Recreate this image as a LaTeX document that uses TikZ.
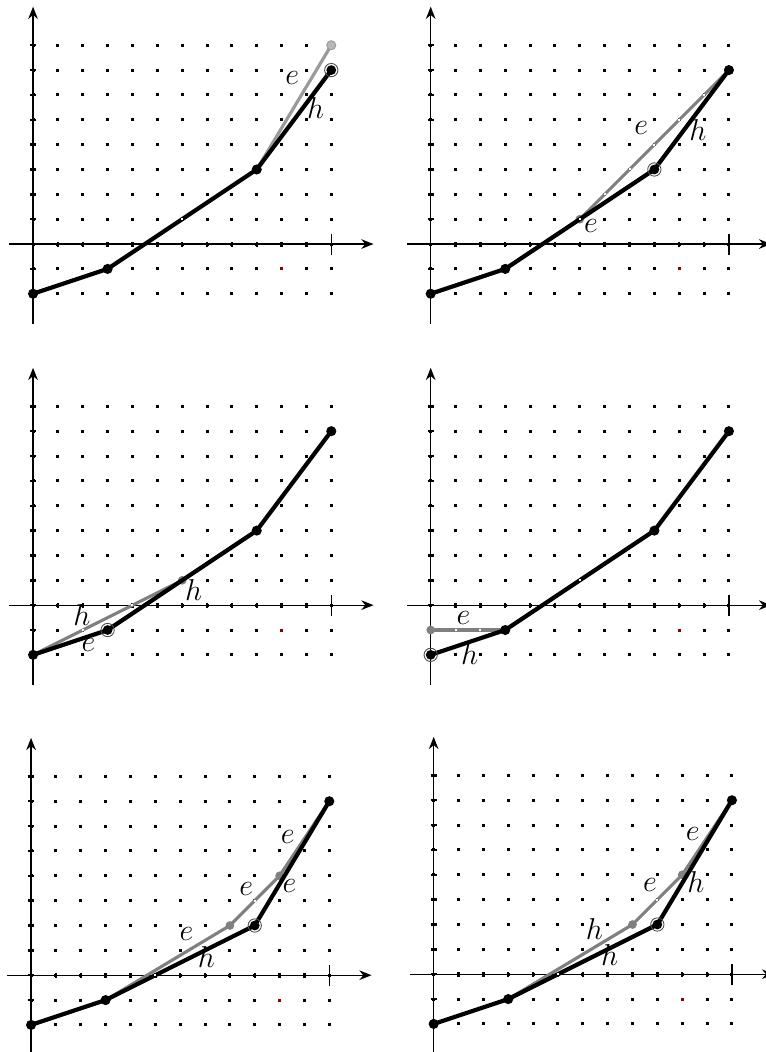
\documentclass[tikz,border=0pt]{standalone}
\usetikzlibrary{arrows.meta}
\definecolor{lgray}{HTML}{9A9A9A}
\definecolor{lfill}{HTML}{B8B8B8}
\definecolor{mgray}{HTML}{808080}
\definecolor{dred}{HTML}{8B0000}
\tikzset{
  blk/.style={line width=2.4pt, line join=round, line cap=round},
  gry/.style={line width=1.8pt, mgray, line join=round},
  lgry/.style={line width=1.8pt, lgray, line join=round},
  axisline/.style={line width=0.75pt, -{Stealth[length=7pt,width=5.5pt]}},
  lbl/.style={inner sep=0pt, font=\fontsize{17}{20}\selectfont},
}
\newcommand\gridbase{%
  \foreach \i in {0,...,12}{\foreach \j in {-2,...,8}{\fill (\i-0.06,\j-0.06) rectangle (\i+0.06,\j+0.06);}}
  \fill[dred] (9.94,-1.06) rectangle (10.06,-0.94);
  \draw[axisline] (-0.95,0) -- (13.7,0);
  \draw[axisline] (0,-3.2) -- (0,9.55);
  \draw[line width=0.75pt] (12,-0.45) -- (12,0.4);
  \foreach \i in {1,...,11}{\draw[line width=1.4pt] (\i,-0.1) -- (\i,0.1);}
  \foreach \j in {-2,...,8}{\draw[line width=1.4pt] (-0.12,\j) -- (0.12,\j);}
}
\newcommand\bdot[1]{\fill (#1) circle (2.9pt);}
\newcommand\ringdot[1]{\fill (#1) circle (2.8pt); \draw[line width=0.5pt, black!70] (#1) circle (3.8pt);}
\newcommand\gdot[1]{\fill[mgray] (#1) circle (2.5pt);}
\newcommand\wdot[1]{\fill[white] (#1) ++(-0.04,-0.04) rectangle ++(0.08,0.08);}
\begin{document}
\begin{tikzpicture}[x=0.5cm,y=0.5cm]
\useasboundingbox (0,-42.33) rectangle (30.82,0);
% ---------- panel 1
\begin{scope}[shift={(1.33,-9.82)}]
  \gridbase
  \coordinate (a0) at (0,-2); \coordinate (a1) at (3,-1); \coordinate (a2) at (9,3); \coordinate (a3) at (12,7);
  \coordinate (g1) at (12,8);
  \draw[lgry] (a2) -- (g1);
  \fill[lfill] (g1) circle (2.6pt); \draw[lgray, line width=0.5pt] (g1) circle (2.6pt);
  \draw[blk] (a0) -- (a1) -- (a2) -- (a3);
  \bdot{a0}\bdot{a1}\bdot{a2}\ringdot{a3}
  \wdot{6,1}
  \node[lbl] (e1) at (10.43,6.68) {$e$};
  \node[lbl] (h1) at (11.37,5.47) {$h$};
\end{scope}
% ---------- panel 2
\begin{scope}[shift={(17.33,-9.82)}]
  \gridbase
  \coordinate (b0) at (0,-2); \coordinate (b1) at (3,-1); \coordinate (b2) at (9,3); \coordinate (b3) at (12,7);
  \coordinate (bg) at (6,1);
  \draw[gry] (bg) -- (b3);
  \gdot{bg}
  \draw[blk] (b0) -- (b1) -- (b2) -- (b3);
  \bdot{b0}\bdot{b1}\ringdot{b2}\bdot{b3}
  \foreach \p in {{6,1},{7,2},{8,3},{9,4},{10,5},{11,6}}{\wdot{\p}}
  \node[lbl] (e2a) at (8.47,4.67) {$e$};
  \node[lbl] (e2b) at (6.45,0.73) {$e$};
  \node[lbl] (h2) at (10.75,4.6) {$h$};
\end{scope}
% ---------- panel 3
\begin{scope}[shift={(1.33,-24.35)}]
  \gridbase
  \coordinate (c0) at (0,-2); \coordinate (c1) at (3,-1); \coordinate (c2) at (9,3); \coordinate (c3) at (12,7);
  \coordinate (cg) at (6,1);
  \draw[gry] (c0) -- (cg);
  \gdot{cg}
  \draw[blk] (c0) -- (c1) -- (c2) -- (c3);
  \bdot{c0}\ringdot{c1}\bdot{c2}\bdot{c3}
  \foreach \p in {{2,-1},{4,0}}{\wdot{\p}}
  \node[lbl] (h3a) at (1.96,-0.4) {$h$};
  \node[lbl] (h3b) at (6.46,0.6) {$h$};
  \node[lbl] (e3) at (2.23,-1.61) {$e$};
\end{scope}
% ---------- panel 4
\begin{scope}[shift={(17.33,-24.35)}]
  \gridbase
  \coordinate (d0) at (0,-2); \coordinate (d1) at (3,-1); \coordinate (d2) at (9,3); \coordinate (d3) at (12,7);
  \coordinate (dg) at (0,-1);
  \draw[gry] (dg) -- (d1);
  \gdot{dg}
  \draw[blk] (d0) -- (d1) -- (d2) -- (d3);
  \ringdot{d0}\bdot{d1}\bdot{d2}\bdot{d3}
  \foreach \p in {{1,-1},{2,-1},{6,1}}{\wdot{\p}}
  \node[lbl] (e4) at (1.32,-0.5) {$e$};
  \node[lbl] (h4) at (1.57,-1.95) {$h$};
\end{scope}
% ---------- panel 5
\begin{scope}[shift={(1.25,-39.24)}]
  \gridbase
  \coordinate (p0) at (0,-2); \coordinate (p1) at (3,-1); \coordinate (p2) at (9,2); \coordinate (p3) at (12,7);
  \coordinate (q1) at (8,2); \coordinate (q2) at (10,4);
  \draw[gry] (p1) -- (q1) -- (q2) -- (p3);
  \gdot{q1}\gdot{q2}
  \draw[blk] (p0) -- (p1) -- (p2) -- (p3);
  \bdot{p0}\bdot{p1}\ringdot{p2}\bdot{p3}
  \foreach \p in {{5,0},{9,3}}{\wdot{\p}}
  \node[lbl] (e5a) at (6.25,1.67) {$e$};
  \node[lbl] (e5b) at (8.66,3.48) {$e$};
  \node[lbl] (e5c) at (10.4,3.6) {$e$};
  \node[lbl] (e5d) at (10.33,5.55) {$e$};
  \node[lbl] (h5) at (7.05,0.73) {$h$};
\end{scope}
% ---------- panel 6
\begin{scope}[shift={(17.45,-39.2)}]
  \gridbase
  \coordinate (r0) at (0,-2); \coordinate (r1) at (3,-1); \coordinate (r2) at (9,2); \coordinate (r3) at (12,7);
  \coordinate (s1) at (8,2); \coordinate (s2) at (10,4);
  \draw[gry] (r1) -- (s1) -- (s2) -- (r3);
  \gdot{s1}\gdot{s2}
  \draw[blk] (r0) -- (r1) -- (r2) -- (r3);
  \bdot{r0}\bdot{r1}\ringdot{r2}\bdot{r3}
  \foreach \p in {{5,0},{9,3}}{\wdot{\p}}
  \node[lbl] (e6a) at (10.42,5.65) {$e$};
  \node[lbl] (h6a) at (10.55,3.7) {$h$};
  \node[lbl] (e6b) at (8.7,3.57) {$e$};
  \node[lbl] (h6b) at (6.47,1.83) {$h$};
  \node[lbl] (h6c) at (7.08,0.76) {$h$};
\end{scope}
\end{tikzpicture}
\end{document}
